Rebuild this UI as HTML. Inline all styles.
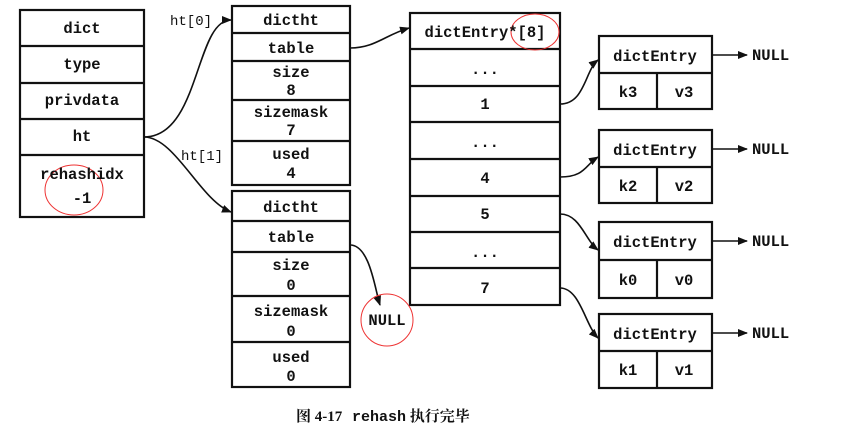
<!DOCTYPE html>
<html><head><meta charset="utf-8"><style>
body{margin:0;background:#fff}
svg text{font-family:"Liberation Mono",monospace;font-weight:bold;font-size:15.5px;fill:#111}
</style></head><body>
<svg width="841" height="433" viewBox="0 0 841 433" xmlns="http://www.w3.org/2000/svg">
<defs><marker id="a" markerWidth="10" markerHeight="8" refX="9" refY="4" orient="auto" markerUnits="userSpaceOnUse"><path d="M0,0 L10,4 L0,8 z" fill="#111"/></marker></defs>
<g fill="none" stroke="#111" stroke-width="2.2">
<rect x="20" y="10" width="124" height="207"/>
<path d="M20 46H144M20 83H144M20 119H144M20 155H144"/>
<rect x="232" y="6" width="118" height="179"/>
<path d="M232 33H350M232 61H350M232 100H350M232 141H350"/>
<rect x="232" y="191" width="118" height="196"/>
<path d="M232 221H350M232 252H350M232 296H350M232 342H350"/>
<rect x="410" y="13" width="150" height="292"/>
<path d="M410 49H560M410 86H560M410 122H560M410 159H560M410 196H560M410 232H560M410 268H560"/>
<rect x="599" y="36" width="113" height="73"/><path d="M599 73H712M657 73V109"/>
<rect x="599" y="130" width="113" height="73"/><path d="M599 167H712M657 167V203"/>
<rect x="599" y="222" width="113" height="76"/><path d="M599 260H712M657 260V298"/>
<rect x="599" y="314" width="113" height="74"/><path d="M599 351H712M657 351V388"/>
</g>
<g fill="none" stroke="#111" stroke-width="1.6" marker-end="url(#a)">
<path d="M144 137 C200 137 195 20 231 20"/>
<path d="M144 137 C175 137 200 200 231 212"/>
<path d="M350 48 C375 48 385 35 409 28"/>
<path d="M350 245 C370 245 375 290 380 305"/>
<path d="M560 104 C585 104 585 70 598 60"/>
<path d="M560 177 C585 177 585 165 598 157"/>
<path d="M560 214 C580 214 585 240 598 250"/>
<path d="M560 288 C580 288 585 325 598 338"/>
<path d="M712 55H747"/><path d="M712 149H747"/><path d="M712 241H747"/><path d="M712 333H747"/>
</g>
<g fill="none" stroke="#e33" stroke-width="1">
<ellipse cx="74" cy="190" rx="29" ry="25"/>
<ellipse cx="535" cy="32" rx="24" ry="18"/>
<circle cx="387" cy="320" r="26"/>
</g>
<g text-anchor="middle">
<text x="82" y="33">dict</text><text x="82" y="69">type</text><text x="82" y="105">privdata</text><text x="82" y="141">ht</text>
<text x="82" y="179">rehashidx</text><text x="82" y="203">-1</text>
<text x="291" y="25">dictht</text><text x="291" y="53">table</text><text x="291" y="77">size</text><text x="291" y="95">8</text>
<text x="291" y="117">sizemask</text><text x="291" y="135">7</text><text x="291" y="159">used</text><text x="291" y="178">4</text>
<text x="291" y="212">dictht</text><text x="291" y="242">table</text><text x="291" y="270">size</text><text x="291" y="290">0</text>
<text x="291" y="316">sizemask</text><text x="291" y="336">0</text><text x="291" y="362">used</text><text x="291" y="381">0</text>
<text x="485" y="37">dictEntry*[8]</text><text x="485" y="74">...</text><text x="485" y="109">1</text><text x="485" y="147">...</text>
<text x="485" y="183">4</text><text x="485" y="219">5</text><text x="485" y="257">...</text><text x="485" y="293">7</text>
<text x="655" y="61">dictEntry</text><text x="628" y="97">k3</text><text x="684" y="97">v3</text>
<text x="655" y="155">dictEntry</text><text x="628" y="191">k2</text><text x="684" y="191">v2</text>
<text x="655" y="247">dictEntry</text><text x="628" y="285">k0</text><text x="684" y="285">v0</text>
<text x="655" y="339">dictEntry</text><text x="628" y="375">k1</text><text x="684" y="375">v1</text>
<text x="387" y="325">NULL</text>
</g>
<text x="752" y="60">NULL</text><text x="752" y="154">NULL</text><text x="752" y="246">NULL</text><text x="752" y="338">NULL</text>
<text x="170" y="25" style="font-weight:normal;font-size:14px">ht[0]</text>
<text x="181" y="160" style="font-weight:normal;font-size:14px">ht[1]</text>
<text x="296" y="421" style="font-family:'Liberation Serif','Noto Serif CJK SC',serif;font-size:15px">图 4-17 <tspan style="font-family:'Liberation Mono',monospace" dx="6">rehash</tspan> 执行完毕</text>
</svg>
</body></html>
